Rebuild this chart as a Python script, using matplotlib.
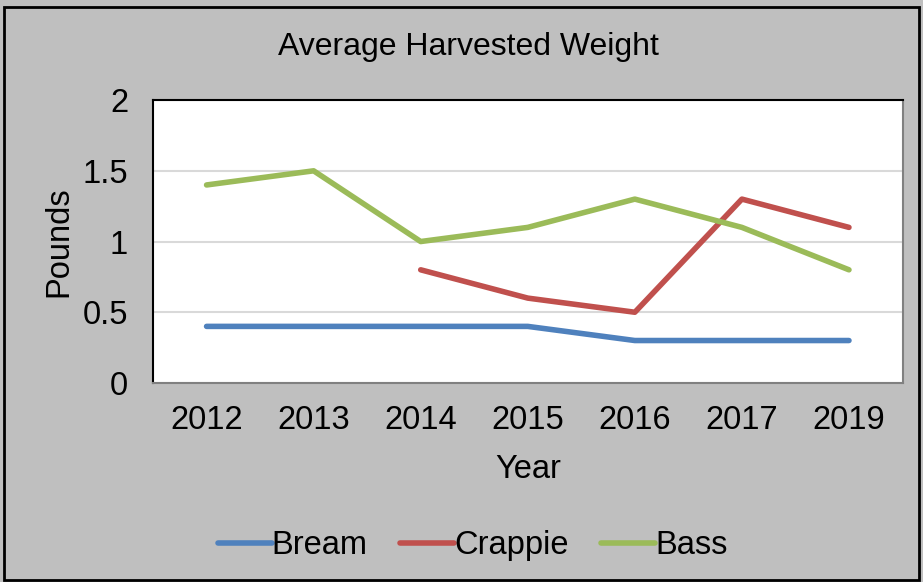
import matplotlib.pyplot as plt
import matplotlib.patches as patches
import numpy as np

plt.rcParams['font.family'] = ['Liberation Sans', 'DejaVu Sans']

years = ['2012', '2013', '2014', '2015', '2016', '2017', '2019']
bream = [0.4, 0.4, 0.4, 0.4, 0.3, 0.3, 0.3]
crappie = [np.nan, np.nan, 0.8, 0.6, 0.5, 1.3, 1.1]
bass = [1.4, 1.5, 1.0, 1.1, 1.3, 1.1, 0.8]

bg = '#bfbfbf'
fig = plt.figure(figsize=(9.23, 5.82), dpi=100, facecolor=bg)
ax = fig.add_axes([0.1658, 0.342, 0.812, 0.486])
ax.set_facecolor('white')

x = np.arange(len(years))
ax.plot(x, bream, color='#4f81bd', lw=4, solid_capstyle='round', label='Bream')
ax.plot(x, crappie, color='#c0504d', lw=4, solid_capstyle='round', label='Crappie')
ax.plot(x, bass, color='#9bbb59', lw=4, solid_capstyle='round', label='Bass')

ax.set_xlim(-0.5, len(years) - 0.5)
ax.set_ylim(0, 2)
ax.set_yticks([0, 0.5, 1, 1.5, 2])
ax.set_yticklabels(['0', '0.5', '1', '1.5', '2'])
ax.set_xticks(x)
ax.set_xticklabels(years)
ax.grid(axis='y', color='#d9d9d9', lw=1.5)
ax.set_axisbelow(True)
ax.tick_params(length=0, labelsize=23.5)
ax.tick_params(axis='x', pad=16)
ax.tick_params(axis='y', pad=18)
for s in ['left', 'top']:
    ax.spines[s].set_color('black')
    ax.spines[s].set_linewidth(1.5)
for s in ['right', 'bottom']:
    ax.spines[s].set_color('#808080')
    ax.spines[s].set_linewidth(1.5)

ax.set_xlabel('Year', fontsize=23.5, labelpad=13)
ax.set_ylabel('Pounds', fontsize=23.5, labelpad=6)
fig.text(0.507, 0.919, 'Average Harvested Weight', fontsize=23, ha='center', va='center')

fig.legend(loc='center', bbox_to_anchor=(0.512, 0.062), ncol=3, frameon=False,
           fontsize=23.5, handlelength=1.65, handletextpad=0.0, columnspacing=1.0)

fig.patches.append(patches.Rectangle((0.004, 0.003), 0.992, 0.985, transform=fig.transFigure,
                                     fill=False, edgecolor='black', lw=2))

fig.savefig('out.png', dpi=100, facecolor=bg)
